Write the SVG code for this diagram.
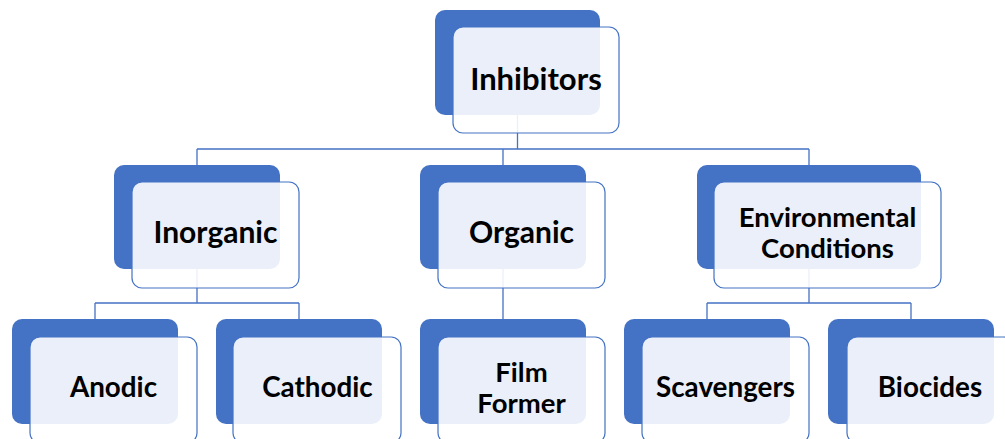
<svg xmlns="http://www.w3.org/2000/svg" width="1005" height="439" viewBox="0 0 1005 439">
<style>
.bg{fill:#4472C4}
.fg{fill:#FFFFFF;fill-opacity:0.89;stroke:#4472C4;stroke-width:1.2}
.c{fill:none;stroke:#4472C4;stroke-width:1.3}
text{font-family:Lato,"Open Sans","Liberation Sans",sans-serif;font-weight:bold;fill:#000;text-anchor:middle}
.t0{font-size:31px}.t1{font-size:30px}.t2{font-size:27.8px}.t3{font-size:27.5px}
</style>
<rect width="1005" height="439" fill="#FFFFFF"/>
<g id="connectors">
<path class="c" d="M517.5,115V149M197,149H809M197,149V165M503,149V165M809,149V165"/>
<path class="c" d="M197,269V303M95,303H299M95,303V319M299,303V319"/>
<path class="c" d="M503,269V319"/>
<path class="c" d="M809,269V303M707,303H911M707,303V319M911,303V319"/>
</g>
<g id="n-inhibitors">
<rect class="bg" x="435" y="10" width="165" height="105" rx="10"/>
<rect class="fg" x="453" y="27" width="166" height="106" rx="10"/>
<text class="t0" x="536" y="90">Inhibitors</text>
</g>
<g id="n-inorganic">
<rect class="bg" x="114" y="165" width="166" height="104" rx="10"/>
<rect class="fg" x="132" y="182" width="167" height="106" rx="10"/>
<text class="t1" x="215.5" y="243">Inorganic</text>
</g>
<g id="n-organic">
<rect class="bg" x="420" y="165" width="166" height="104" rx="10"/>
<rect class="fg" x="438" y="182" width="167" height="106" rx="10"/>
<text class="t1" x="521.5" y="243">Organic</text>
</g>
<g id="n-environmental">
<rect class="bg" x="697" y="165" width="224" height="104" rx="10"/>
<rect class="fg" x="714" y="182" width="227" height="106" rx="10"/>
<text class="t3" x="827.5" y="227">Environmental</text>
<text class="t3" x="827.5" y="258">Conditions</text>
</g>
<g id="n-anodic">
<rect class="bg" x="12" y="319" width="166" height="105" rx="10"/>
<rect class="fg" x="30" y="337" width="167" height="106" rx="10"/>
<text class="t2" x="113.5" y="397">Anodic</text>
</g>
<g id="n-cathodic">
<rect class="bg" x="216" y="319" width="166" height="105" rx="10"/>
<rect class="fg" x="233" y="337" width="168" height="106" rx="10"/>
<text class="t2" x="317.5" y="397">Cathodic</text>
</g>
<g id="n-filmformer">
<rect class="bg" x="420" y="319" width="166" height="105" rx="10"/>
<rect class="fg" x="438" y="337" width="167" height="106" rx="10"/>
<text class="t3" x="521.5" y="382">Film</text>
<text class="t3" x="521.5" y="413">Former</text>
</g>
<g id="n-scavengers">
<rect class="bg" x="624" y="319" width="166" height="105" rx="10"/>
<rect class="fg" x="642" y="337" width="167" height="106" rx="10"/>
<text class="t2" x="725.5" y="397">Scavengers</text>
</g>
<g id="n-biocides">
<rect class="bg" x="828" y="319" width="166" height="105" rx="10"/>
<rect class="fg" x="847" y="337" width="167" height="106" rx="10"/>
<text class="t2" x="930" y="397">Biocides</text>
</g>
</svg>
